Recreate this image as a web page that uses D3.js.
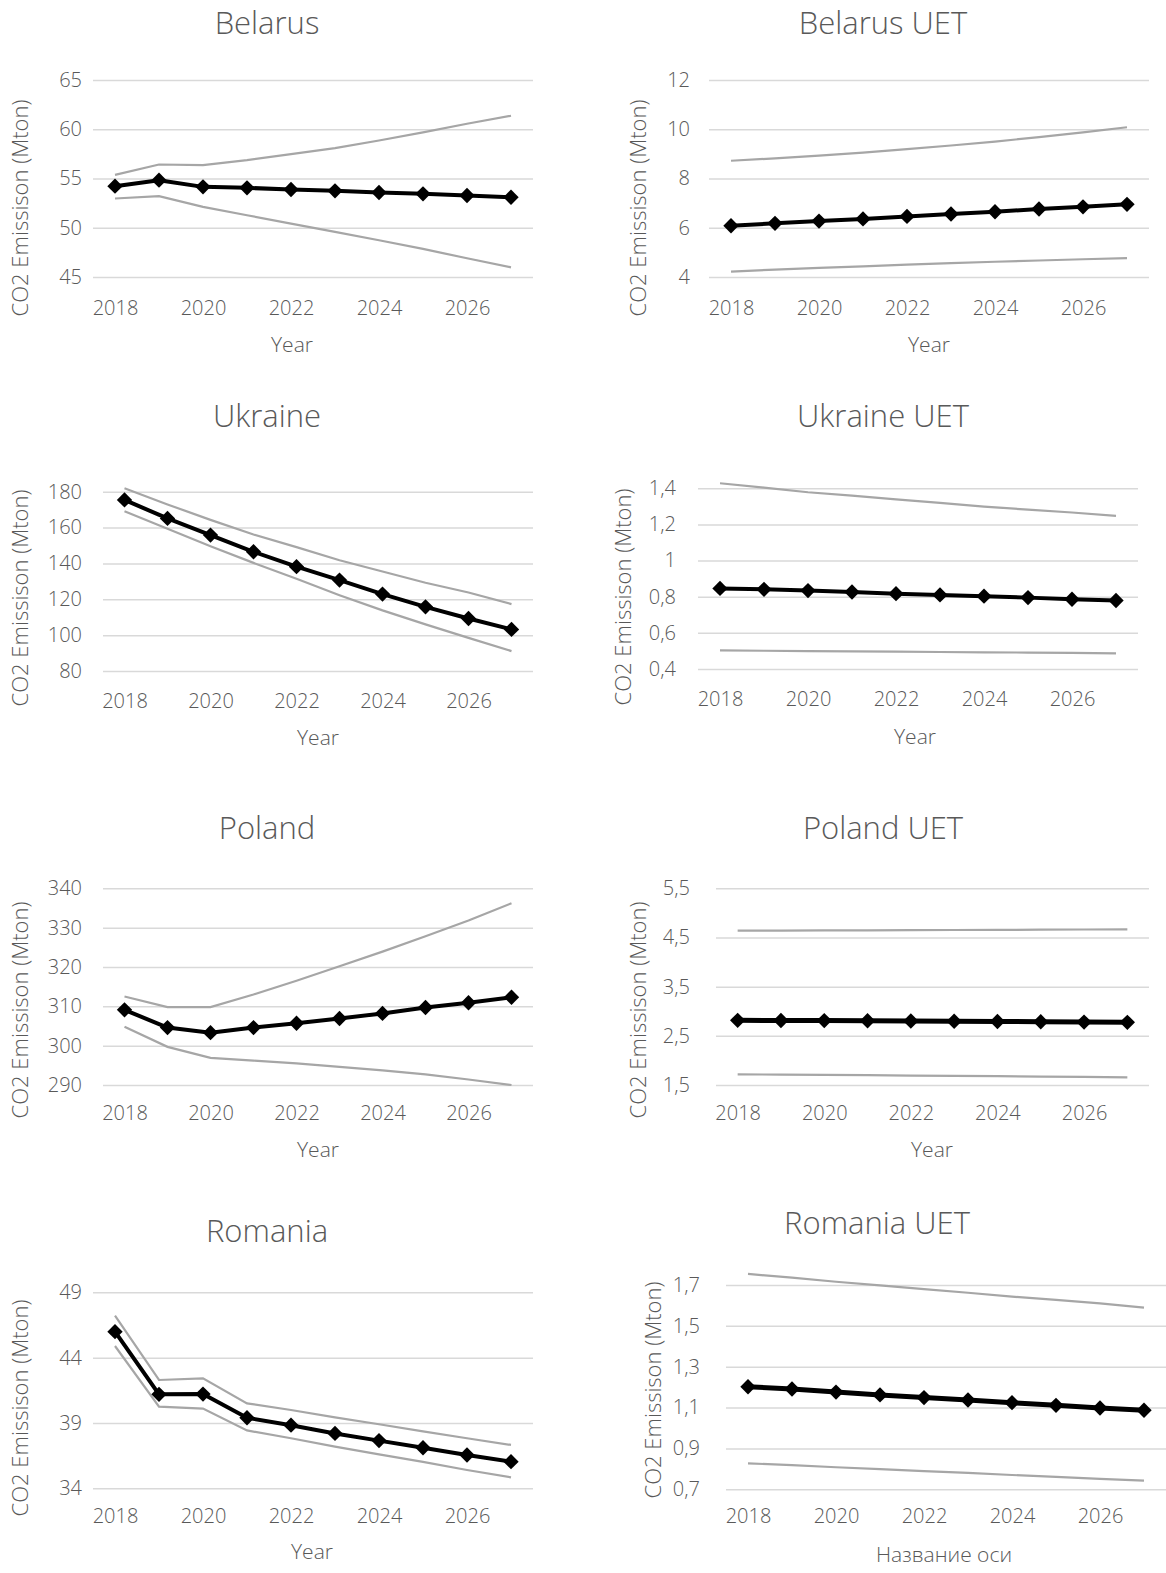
<!DOCTYPE html>
<html>
<head>
<meta charset="utf-8">
<script src="https://cdn.jsdelivr.net/npm/d3@7"></script>
<style>
  body { margin: 0; background: #fff; }
  text { font-family: "Open Sans", "Noto Sans", sans-serif; font-weight: 300; fill: #595959; }
</style>
</head>
<body>
<svg id="chart" width="1166" height="1573"></svg>
<script>
// years on the category axis
var years = [2018, 2019, 2020, 2021, 2022, 2023, 2024, 2025, 2026, 2027];
var yearTicks = [2018, 2020, 2022, 2024, 2026];

// forecast, upper and lower bounds
var belarusMain  = [54.22, 54.83, 54.15, 54.05, 53.88, 53.75, 53.58, 53.44, 53.27, 53.10];
var belarusUp    = [55.37, 56.42, 56.36, 56.86, 57.47, 58.08, 58.86, 59.68, 60.56, 61.37];
var belarusLow   = [52.97, 53.20, 52.12, 51.27, 50.42, 49.58, 48.73, 47.85, 46.90, 45.98];

var belarusUetMain = [6.08, 6.18, 6.27, 6.36, 6.46, 6.56, 6.65, 6.76, 6.85, 6.95];
var belarusUetUp   = [8.72, 8.82, 8.93, 9.05, 9.19, 9.34, 9.50, 9.68, 9.87, 10.08];
var belarusUetLow  = [4.22, 4.30, 4.37, 4.43, 4.50, 4.56, 4.62, 4.67, 4.72, 4.77];

var ukraineMain = [175.4, 165.1, 155.8, 146.5, 138.2, 130.7, 122.9, 115.8, 109.3, 103.2];
var ukraineUp   = [181.9, 172.9, 164.3, 156.1, 149.1, 141.8, 135.5, 129.2, 123.8, 117.3];
var ukraineLow  = [169.1, 159.3, 149.6, 140.3, 131.4, 122.3, 113.8, 106.0, 98.5, 91.1];

var ukraineUetMain = [0.846, 0.841, 0.834, 0.826, 0.817, 0.810, 0.803, 0.795, 0.786, 0.779];
var ukraineUetUp   = [1.428, 1.404, 1.378, 1.359, 1.339, 1.319, 1.299, 1.282, 1.266, 1.247];
var ukraineUetLow  = [0.503, 0.501, 0.499, 0.497, 0.496, 0.494, 0.492, 0.491, 0.489, 0.487];

var polandMain = [309.1, 304.6, 303.3, 304.6, 305.7, 306.9, 308.2, 309.7, 310.9, 312.3];
var polandUp   = [312.5, 309.8, 309.8, 313.0, 316.5, 320.2, 323.9, 327.8, 331.8, 336.2];
var polandLow  = [304.8, 299.7, 296.9, 296.2, 295.5, 294.6, 293.7, 292.7, 291.4, 290.0];

var polandUetMain = [2.815, 2.812, 2.810, 2.806, 2.802, 2.797, 2.792, 2.786, 2.780, 2.775];
var polandUetUp   = [4.639, 4.641, 4.643, 4.646, 4.649, 4.652, 4.655, 4.658, 4.662, 4.666];
var polandUetLow  = [1.717, 1.711, 1.705, 1.699, 1.692, 1.686, 1.679, 1.672, 1.664, 1.656];

var romaniaMain = [45.99, 41.19, 41.21, 39.40, 38.83, 38.20, 37.65, 37.10, 36.55, 36.04];
var romaniaUp   = [47.21, 42.29, 42.42, 40.50, 39.99, 39.43, 38.90, 38.36, 37.83, 37.32];
var romaniaLow  = [44.89, 40.25, 40.10, 38.43, 37.83, 37.19, 36.60, 36.02, 35.40, 34.84];

var romaniaUetMain = [1.202, 1.191, 1.176, 1.162, 1.149, 1.137, 1.124, 1.111, 1.098, 1.087];
var romaniaUetUp   = [1.754, 1.736, 1.716, 1.698, 1.680, 1.662, 1.643, 1.627, 1.610, 1.589];
var romaniaUetLow  = [0.827, 0.818, 0.808, 0.799, 0.789, 0.780, 0.770, 0.761, 0.751, 0.742];

// y tick values per panel
var belarusTicks    = [45, 50, 55, 60, 65];
var belarusUetTicks = [4, 6, 8, 10, 12];
var ukraineTicks    = [80, 100, 120, 140, 160, 180];
var ukraineUetTicks = [0.4, 0.6, 0.8, 1, 1.2, 1.4];
var polandTicks     = [290, 300, 310, 320, 330, 340];
var polandUetTicks  = [1.5, 2.5, 3.5, 4.5, 5.5];
var romaniaTicks    = [34, 39, 44, 49];
var romaniaUetTicks = [0.7, 0.9, 1.1, 1.3, 1.5, 1.7];

var yTitle = "CO2 Emissison (Mton)";

// panel layout: plot box, label placement
var panels = [
  {title: "Belarus", main: belarusMain, up: belarusUp, low: belarusLow, ticks: belarusTicks,
   x0: 93, x1: 533, y0: 277, y1: 80, labR: 82, tickY: 307, tx: 267, ty: 26,
   xt: "Year", xtx: 292, xty: 346, ytx: 22, yty: 208, thick: 4},
  {title: "Belarus UET", main: belarusUetMain, up: belarusUetUp, low: belarusUetLow, ticks: belarusUetTicks,
   x0: 709, x1: 1149, y0: 277, y1: 80, labR: 690, tickY: 307, tx: 883, ty: 26,
   xt: "Year", xtx: 929, xty: 346, ytx: 640, yty: 208, thick: 4},
  {title: "Ukraine", main: ukraineMain, up: ukraineUp, low: ukraineLow, ticks: ukraineTicks,
   x0: 103, x1: 533, y0: 671, y1: 491.7, labR: 82, tickY: 700, tx: 267, ty: 419,
   xt: "Year", xtx: 318, xty: 739, ytx: 22, yty: 598, thick: 4},
  {title: "Ukraine UET", main: ukraineUetMain, up: ukraineUetUp, low: ukraineUetLow, ticks: ukraineUetTicks,
   x0: 698, x1: 1138, y0: 669, y1: 488.3, labR: 676, tickY: 698, tx: 883, ty: 419,
   xt: "Year", xtx: 915, xty: 738, ytx: 625, yty: 597, thick: 4},
  {title: "Poland", main: polandMain, up: polandUp, low: polandLow, ticks: polandTicks,
   x0: 103, x1: 533, y0: 1085, y1: 888.3, labR: 82, tickY: 1112, tx: 267, ty: 831,
   xt: "Year", xtx: 318, xty: 1151, ytx: 22, yty: 1010, thick: 4},
  {title: "Poland UET", main: polandUetMain, up: polandUetUp, low: polandUetLow, ticks: polandUetTicks,
   x0: 716, x1: 1149, y0: 1085, y1: 888.3, labR: 690, tickY: 1112, tx: 883, ty: 831,
   xt: "Year", xtx: 932, xty: 1151, ytx: 640, yty: 1010, thick: 5},
  {title: "Romania", main: romaniaMain, up: romaniaUp, low: romaniaLow, ticks: romaniaTicks,
   x0: 93, x1: 533, y0: 1488.3, y1: 1292.3, labR: 82, tickY: 1515, tx: 267, ty: 1234,
   xt: "Year", xtx: 312, xty: 1553, ytx: 22, yty: 1408, thick: 4},
  {title: "Romania UET", main: romaniaUetMain, up: romaniaUetUp, low: romaniaUetLow, ticks: romaniaUetTicks,
   x0: 726, x1: 1166, y0: 1489.3, y1: 1285, labR: 700, tickY: 1515, tx: 877, ty: 1226,
   xt: "Название оси", xtx: 944, xty: 1556, ytx: 655, yty: 1390, thick: 5}
];

var fmt = function(v){ return String(+v.toFixed(2)).replace('.', ','); };

var svg = d3.select('#chart');

panels.forEach(function(p){
  var g = svg.append('g');
  var x = d3.scalePoint().domain(years).range([p.x0, p.x1]).padding(0.5);
  var y = d3.scaleLinear().domain([d3.min(p.ticks), d3.max(p.ticks)]).range([p.y0, p.y1]);

  // grid + y labels
  var yAxis = g.append('g')
      .attr('transform', 'translate(' + p.x0 + ',0)')
      .call(d3.axisLeft(y).tickValues(p.ticks).tickFormat(fmt)
            .tickSize(-(p.x1 - p.x0)).tickPadding(p.x0 - p.labR));
  yAxis.select('.domain').remove();
  yAxis.selectAll('line').attr('stroke', '#d9d9d9').attr('stroke-width', 1.5);
  yAxis.selectAll('text').style('font-size', '20px').style('fill', '#595959')
       .style('font-family', '"Open Sans", sans-serif').style('font-weight', 300);

  // x labels
  var xAxis = g.append('g')
      .attr('transform', 'translate(0,' + (p.tickY - 6) + ')')
      .call(d3.axisBottom(x).tickValues(yearTicks).tickSize(0).tickPadding(0));
  xAxis.select('.domain').remove();
  xAxis.selectAll('text').attr('dy', '0.71em').style('font-size', '20px').style('fill', '#595959')
       .style('font-family', '"Open Sans", sans-serif').style('font-weight', 300);

  var line = d3.line().x(function(d, i){ return x(years[i]); }).y(function(d){ return y(d); });

  g.append('path').datum(p.up).attr('d', line)
    .attr('fill', 'none').attr('stroke', '#a6a6a6').attr('stroke-width', 2.2);
  g.append('path').datum(p.low).attr('d', line)
    .attr('fill', 'none').attr('stroke', '#a6a6a6').attr('stroke-width', 2.2);
  g.append('path').datum(p.main).attr('d', line)
    .attr('fill', 'none').attr('stroke', '#000').attr('stroke-width', p.thick)
    .attr('stroke-linejoin', 'round');

  g.selectAll('path.mk')
    .data(p.main)
    .enter()
    .append('path')
    .attr('class', 'mk')
    .attr('d', d3.symbol().type(d3.symbolDiamond2).size(150))
    .attr('transform', function(d, i){ return 'translate(' + x(years[i]) + ',' + y(d) + ')'; })
    .attr('fill', '#000');

  g.append('text').text(p.title)
    .attr('x', p.tx).attr('y', p.ty)
    .attr('text-anchor', 'middle').attr('dominant-baseline', 'middle')
    .style('font-size', '31px');

  g.append('text').text(p.xt)
    .attr('x', p.xtx).attr('y', p.xty)
    .attr('text-anchor', 'middle').attr('dominant-baseline', 'middle')
    .style('font-size', '21px');

  g.append('text').text(yTitle)
    .attr('transform', 'translate(' + p.ytx + ',' + p.yty + ') rotate(-90)')
    .attr('text-anchor', 'middle').attr('dominant-baseline', 'middle')
    .style('font-size', '22px');
});
</script>
</body>
</html>
